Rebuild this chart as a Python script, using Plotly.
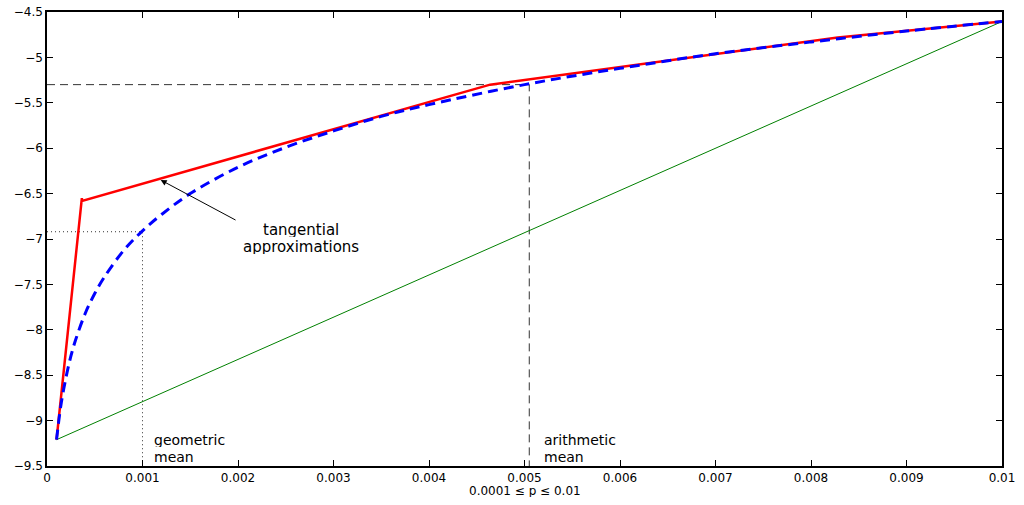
import plotly.graph_objects as go

# blue dashed curve: log(p)
curve_p = [0.0001, 0.00012, 0.00015, 0.0002, 0.00025, 0.0003, 0.0004, 0.0005, 0.0006, 0.0008,
           0.001, 0.0012, 0.0015, 0.002, 0.0025, 0.003, 0.0035, 0.004, 0.005, 0.006,
           0.007, 0.008, 0.009, 0.01]
curve_y = [-9.21, -9.03, -8.80, -8.52, -8.29, -8.11, -7.82, -7.60, -7.42, -7.13,
           -6.91, -6.73, -6.50, -6.21, -5.99, -5.81, -5.65, -5.52, -5.30, -5.12,
           -4.96, -4.83, -4.71, -4.605]

# red tangential approximation
tan_p = [0.0001, 0.000365, 0.000368, 0.00464, 0.00828, 0.01]
tan_y = [-9.21, -6.55, -6.58, -5.30, -4.78, -4.605]

# green chord
chord_p = [0.0001, 0.01]
chord_y = [-9.21, -4.605]

# means
arith_p, arith_y = 0.00505, -5.30
geo_p, geo_y = 0.001, -6.92

x_ticks = [0, 0.001, 0.002, 0.003, 0.004, 0.005, 0.006, 0.007, 0.008, 0.009, 0.01]
x_ticktext = ["0", "0.001", "0.002", "0.003", "0.004", "0.005", "0.006", "0.007", "0.008", "0.009", "0.01"]
y_ticks = [-9.5, -9, -8.5, -8, -7.5, -7, -6.5, -6, -5.5, -5, -4.5]
y_ticktext = ["\u22129.5", "\u22129", "\u22128.5", "\u22128", "\u22127.5", "\u22127", "\u22126.5", "\u22126", "\u22125.5", "\u22125", "\u22124.5"]

fig = go.Figure()

# reference lines
fig.add_trace(go.Scatter(x=[0, arith_p, arith_p], y=[arith_y, arith_y, -9.5], mode="lines",
                         line=dict(color="#333333", width=1, dash="8px,5px"), hoverinfo="skip"))
fig.add_trace(go.Scatter(x=[0, geo_p, geo_p], y=[geo_y, geo_y, -9.5], mode="lines",
                         line=dict(color="#333333", width=1, dash="1px,3px"), hoverinfo="skip"))

fig.add_trace(go.Scatter(x=chord_p, y=chord_y, mode="lines",
                         line=dict(color="#008000", width=1)))
fig.add_trace(go.Scatter(x=tan_p, y=tan_y, mode="lines",
                         line=dict(color="#ff0000", width=2.5)))
fig.add_trace(go.Scatter(x=curve_p, y=curve_y, mode="lines", line_shape="spline",
                         line=dict(color="#0000ff", width=3, dash="10px,6px")))

font_fam = "DejaVu Sans, sans-serif"
txt = dict(size=15, color="#000000", family=font_fam)
txt_small = dict(size=14, color="#000000", family=font_fam)

fig.add_annotation(x=0.00119, y=-6.35, ax=0.00199, ay=-6.80, xref="x", yref="y",
                   axref="x", ayref="y", showarrow=True, arrowhead=2, arrowsize=1.2,
                   arrowwidth=1, arrowcolor="#000000", text="")
fig.add_annotation(x=0.00266, y=-6.89, xref="x", yref="y", showarrow=False,
                   text="tangential", font=txt, height=15)
fig.add_annotation(x=0.00266, y=-7.08, xref="x", yref="y", showarrow=False,
                   text="approximations", font=txt, height=15)
fig.add_annotation(x=0.0011, y=-9.215, xref="x", yref="y", showarrow=False, xanchor="left",
                   text="geometric", font=txt_small, height=14)
fig.add_annotation(x=0.0011, y=-9.395, xref="x", yref="y", showarrow=False, xanchor="left",
                   text="mean", font=txt_small, height=13)
fig.add_annotation(x=0.00518, y=-9.215, xref="x", yref="y", showarrow=False, xanchor="left",
                   text="arithmetic", font=txt_small, height=14)
fig.add_annotation(x=0.00518, y=-9.395, xref="x", yref="y", showarrow=False, xanchor="left",
                   text="mean", font=txt_small, height=13)
fig.add_annotation(x=0.5, y=-0.053, xref="paper", yref="paper", showarrow=False,
                   text="0.0001 \u2264 p \u2264 0.01", yanchor="middle", height=13,
                   font=dict(size=12, color="#000000", family=font_fam))

fig.update_layout(
    width=1024, height=505,
    margin=dict(l=47, r=22, t=12, b=39),
    paper_bgcolor="white", plot_bgcolor="white",
    showlegend=False,
    font=dict(family=font_fam, size=12, color="#000000"),
)
fig.update_xaxes(range=[0, 0.01], tickvals=x_ticks, ticktext=x_ticktext, automargin=False,
                 showgrid=False, zeroline=False, showline=True, linecolor="black",
                 linewidth=1.5, mirror="ticks", ticks="inside", ticklen=6,
                 tickcolor="black", tickwidth=1, ticklabelstandoff=0,
                 ticklabeloverflow="allow")
fig.update_yaxes(range=[-9.5, -4.5], tickvals=y_ticks, ticktext=y_ticktext, automargin=False,
                 showgrid=False, zeroline=False, showline=True, linecolor="black",
                 linewidth=1.5, mirror="ticks", ticks="inside", ticklen=6,
                 tickcolor="black", tickwidth=1, ticklabeloverflow="allow")

# remove the default page margin so the figure sits at the window's top-left corner
fig.write_html("out.html", config={"displayModeBar": False},
               post_script="document.body.style.margin='0';")
